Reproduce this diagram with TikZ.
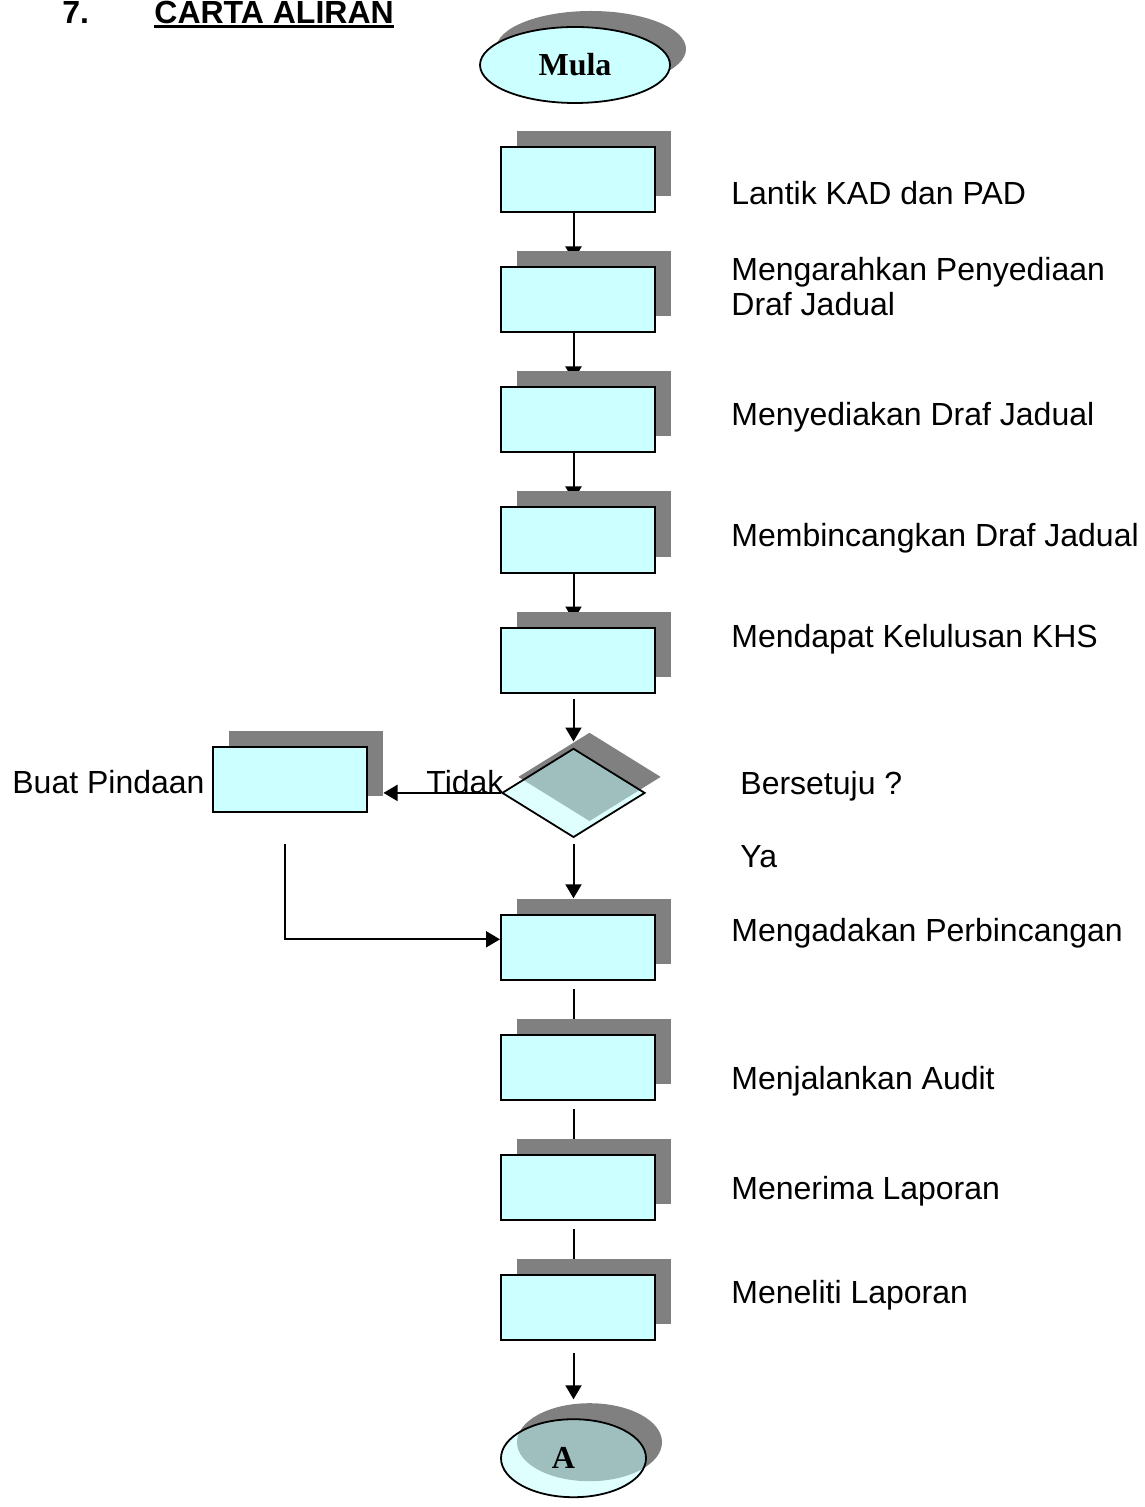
\documentclass[tikz,border=0pt]{standalone}
\usepackage{fontspec}
\setmainfont{Liberation Sans}
\newfontfamily\romanhd{Liberation Serif}
\usetikzlibrary{positioning,arrows.meta,shapes.geometric,shadows}
\definecolor{fcbox}{HTML}{CCFFFF}
\definecolor{fcpale}{HTML}{BFFFFF}
\definecolor{fcshade}{HTML}{808080}
\pgfdeclarelayer{back}
\pgfsetlayers{back,main}

\begin{document}
\begin{tikzpicture}[
  x=0.5pt, y=-0.5pt,
  node distance=26.5pt,
  dshadow/.style={drop shadow={shadow xshift=8pt, shadow yshift=8pt, fill=fcshade, opacity=1}},
  box/.style={draw, line width=1pt, fill=fcbox, minimum width=77pt, minimum height=32.5pt, inner sep=0pt, dshadow},
  term/.style={ellipse, draw, line width=0.9pt, inner sep=0pt, font=\romanhd\bfseries\fontsize{16pt}{18pt}\selectfont, dshadow},
  ask/.style={diamond, draw, line width=0.9pt, fill=fcpale, fill opacity=0.5, draw opacity=1, minimum width=71.5pt, minimum height=44.5pt, inner sep=0pt, dshadow},
  lbl/.style={anchor=base west, inner sep=0pt, font=\fontsize{16pt}{17.5pt}\selectfont},
  hd/.style={anchor=base west, inner sep=0pt, font=\bfseries\fontsize{16pt}{18pt}\selectfont},
  arr/.style={-{Triangle[length=7pt,width=8pt]}, line width=1pt},
  link/.style={line width=1pt}
]
\useasboundingbox (0,0) rectangle (1144,1507);
\coordinate (axis) at (573.5,0);

% heading
\node[hd] (nom) at (62,24) {7.};
\node[hd] (judul) at (154,24) {CARTA ALIRAN};
\draw[line width=1.5pt] ([yshift=-1.5pt]judul.base west) -- ([yshift=-1.5pt]judul.base east);

% main column
\node[term, fill=fcbox, minimum width=95pt, minimum height=38pt] (mula) at (575,65) {Mula};
\node[box] (b1) at (578,180) {};
\node[box, below=of b1] (b2) {};
\node[box, below=of b2] (b3) {};
\node[box, below=of b3] (b4) {};
\node[box, below=of b4] (b5) {};
\node[ask, below=27pt of b5, xshift=-2.25pt] (soal) {};
\node[box, below=38pt of soal, xshift=2.25pt] (b6) {};
\node[box, below=of b6] (b7) {};
\node[box, below=of b7] (b8) {};
\node[box, below=of b8] (b9) {};
\node[term, fill=fcpale, fill opacity=0.5, text opacity=1, minimum width=72.5pt, minimum height=39pt, below=38.5pt of b9, xshift=-2.25pt] (akhir) {\kern-10pt A};
\node[box] (pinda) at (289.5,779.5) {};

% labels
\node[lbl] (t1) at (731,205) {Lantik KAD dan PAD};
\node[lbl, anchor=north west, align=left] (t2) at (731,257) {Mengarahkan Penyediaan\\Draf Jadual};
\node[lbl] (t3) at (731,426) {Menyediakan Draf Jadual};
\node[lbl] (t4) at (731,546) {Membincangkan Draf Jadual};
\node[lbl] (t5) at (731,647) {Mendapat Kelulusan KHS};
\node[lbl] (tq) at (740,794) {Bersetuju ?};
\node[lbl] (tya) at (740,867) {Ya};
\node[lbl] (tno) at (426,793) {Tidak};
\node[lbl] (tp) at (12,793) {Buat Pindaan};
\node[lbl] (t6) at (731,941) {Mengadakan Perbincangan};
\node[lbl] (t7) at (731,1089) {Menjalankan Audit};
\node[lbl] (t8) at (731,1199) {Menerima Laporan};
\node[lbl] (t9) at (731,1303) {Meneliti Laporan};

% connectors
\begin{pgfonlayer}{back}
\foreach \a/\b in {b1/b2,b2/b3,b3/b4,b4/b5}
  \draw[arr, shorten >=3pt] (\a.south -| axis) -- (\b.north -| axis);
\foreach \a/\b in {b6/b7,b7/b8,b8/b9}
  \draw[link, shorten <=4pt] (\a.south -| axis) -- (\b.north -| axis);
\end{pgfonlayer}
\draw[arr, shorten <=2.5pt, shorten >=3pt] (b5.south -| axis) -- (soal.north);
\draw[arr, shorten <=3pt, shorten >=8pt] (soal.south) -- (b6.north -| axis);
\draw[arr, shorten >=8pt] (soal.west) -- (soal.west -| pinda.east);
\draw[arr, shorten <=15.5pt] ([xshift=-2.25pt]pinda.south) |- ([yshift=4.25pt]b6.west);
\draw[arr, shorten <=6pt, shorten >=9.5pt] (b9.south -| axis) -- (akhir.north);
\end{tikzpicture}
\end{document}
